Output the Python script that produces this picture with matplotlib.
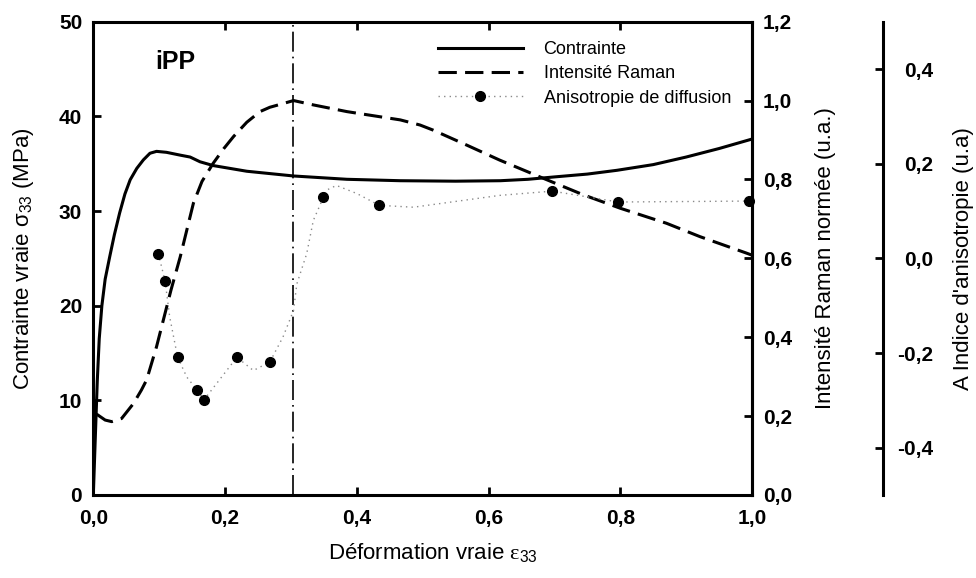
import matplotlib
matplotlib.use("Agg")
import matplotlib.pyplot as plt
from matplotlib.lines import Line2D
from matplotlib.ticker import FixedLocator, FixedFormatter

plt.rcParams['font.family'] = ['Liberation Sans', 'DejaVu Sans']
plt.rcParams['mathtext.fontset'] = 'custom'
plt.rcParams['mathtext.rm'] = 'Liberation Sans'
plt.rcParams['mathtext.it'] = 'Liberation Serif'

# ---- data ----
stress_x = [0.0, 0.003, 0.006, 0.009, 0.013, 0.018, 0.025, 0.032, 0.040, 0.048, 0.056, 0.066,
            0.076, 0.086, 0.096, 0.111, 0.132, 0.147, 0.162, 0.182, 0.233, 0.304, 0.385,
            0.466, 0.55, 0.618, 0.66, 0.7, 0.75, 0.795, 0.85, 0.9, 0.95, 1.0]
stress_y = [0.0, 6.0, 12.0, 16.5, 20.0, 22.8, 25.2, 27.5, 29.8, 31.8, 33.3, 34.5,
            35.4, 36.1, 36.3, 36.2, 35.9, 35.7, 35.2, 34.8, 34.2, 33.7, 33.35,
            33.2, 33.15, 33.2, 33.35, 33.6, 33.9, 34.3, 34.9, 35.7, 36.6, 37.6]

raman_x = [0.005, 0.018, 0.028, 0.043, 0.061, 0.073, 0.081, 0.096, 0.118, 0.132, 0.152, 0.165,
           0.182, 0.198, 0.213, 0.233, 0.253, 0.268, 0.283, 0.304, 0.334, 0.385, 0.435, 0.466,
           0.496, 0.516, 0.567, 0.617, 0.683, 0.744, 0.8, 0.87, 0.921, 0.992, 1.0]
raman_y = [0.205, 0.19, 0.186, 0.194, 0.232, 0.266, 0.292, 0.376, 0.52, 0.604, 0.74, 0.795,
           0.841, 0.878, 0.909, 0.945, 0.972, 0.983, 0.99, 1.0, 0.989, 0.972, 0.959, 0.951,
           0.938, 0.925, 0.887, 0.849, 0.803, 0.761, 0.727, 0.689, 0.655, 0.613, 0.608]

aniso_x = [0.0987, 0.109, 0.128, 0.158, 0.168, 0.218, 0.268, 0.349, 0.434, 0.697, 0.797, 0.996]
aniso_y = [0.0099, -0.048, -0.209, -0.279, -0.299, -0.209, -0.219, 0.130, 0.112, 0.142, 0.119, 0.121]

aniso_line_x = [0.0987, 0.109, 0.116, 0.128, 0.142, 0.158, 0.168, 0.218, 0.243, 0.268, 0.288,
                0.304, 0.309, 0.324, 0.334, 0.354, 0.369, 0.40, 0.434, 0.486, 0.617, 0.697,
                0.797, 0.996]
aniso_line_y = [0.0099, -0.048, -0.124, -0.209, -0.251, -0.279, -0.299, -0.209, -0.237, -0.219,
                -0.166, -0.11, -0.054, 0.01, 0.08, 0.144, 0.154, 0.137, 0.112, 0.108, 0.133, 0.142,
                0.119, 0.121]

vline_x = 0.303

x_ticks = [0.0, 0.2, 0.4, 0.6, 0.8, 1.0]
x_labels = ['0,0', '0,2', '0,4', '0,6', '0,8', '1,0']
s_ticks = [0, 10, 20, 30, 40, 50]
s_labels = ['0', '10', '20', '30', '40', '50']
r_ticks = [0.0, 0.2, 0.4, 0.6, 0.8, 1.0, 1.2]
r_labels = ['0,0', '0,2', '0,4', '0,6', '0,8', '1,0', '1,2']
a_ticks = [-0.4, -0.2, 0.0, 0.2, 0.4]
a_labels = ['-0,4', '-0,2', '0,0', '0,2', '0,4']

series_names = ['Contrainte', 'Intensité Raman', 'Anisotropie de diffusion']

# ---- figure ----
fig = plt.figure(figsize=(9.76, 5.78), dpi=100)
ax = fig.add_axes([0.0956, 0.1436, 0.6749, 0.8189])
ax2 = ax.twinx()
ax3 = ax.twinx()

spine_lw = 2.2
TICK_FS = 15
LABEL_FS = 16

# main axis
ax.plot(stress_x, stress_y, color='black', lw=2.2, solid_capstyle='butt')
ax.axvline(vline_x, color='black', lw=1.2, linestyle=(0, (12, 3, 1, 3)))
ax.set_xlim(0, 1.0)
ax.set_ylim(0, 50)
ax.xaxis.set_major_locator(FixedLocator(x_ticks))
ax.xaxis.set_major_formatter(FixedFormatter(x_labels))
ax.yaxis.set_major_locator(FixedLocator(s_ticks))
ax.yaxis.set_major_formatter(FixedFormatter(s_labels))
ax.tick_params(axis='x', direction='in', top=True, length=6, width=2, pad=10)
ax.tick_params(axis='y', direction='in', right=False, length=6, width=2, pad=8)
for lab in ax.get_xticklabels() + ax.get_yticklabels():
    lab.set_fontsize(TICK_FS)
    lab.set_fontweight('bold')
for sp in ax.spines.values():
    sp.set_linewidth(spine_lw)
ax.set_xlabel(r'Déformation vraie $\varepsilon_{33}$', fontsize=LABEL_FS)
ax.xaxis.set_label_coords(0.516, -0.098)
ax.set_ylabel(r'Contrainte vraie $\mathrm{\sigma_{33}}$ (MPa)', fontsize=LABEL_FS)
ax.yaxis.set_label_coords(-0.087, 0.5)
ax.text(0.124, 0.915, 'iPP', transform=ax.transAxes, fontsize=18, fontweight='bold',
        ha='center', va='center')

# Raman axis
ax2.plot(raman_x, raman_y, color='black', lw=2.2, linestyle=(0, (6, 2.7)))
ax2.set_ylim(0, 1.2)
ax2.yaxis.set_major_locator(FixedLocator(r_ticks))
ax2.yaxis.set_major_formatter(FixedFormatter(r_labels))
ax2.tick_params(axis='y', direction='in', length=6, width=2, pad=8)
for lab in ax2.get_yticklabels():
    lab.set_fontsize(TICK_FS)
    lab.set_fontweight('bold')
for name, sp in ax2.spines.items():
    sp.set_visible(name == 'right')
    sp.set_linewidth(spine_lw)
ax2.set_ylabel('Intensité Raman normée (u.a.)', fontsize=LABEL_FS)
ax2.yaxis.set_label_coords(1.095, 0.5)

# anisotropy axis
ax3.spines['right'].set_position(('axes', 1.199))
for name, sp in ax3.spines.items():
    sp.set_visible(name == 'right')
    sp.set_linewidth(spine_lw)
ax3.plot(aniso_line_x, aniso_line_y, color='#8a8a8a', lw=1.0, linestyle=(0, (1, 3)))
ax3.plot(aniso_x, aniso_y, linestyle='none', marker='o', markersize=7,
         color='black', clip_on=False)
ax3.set_ylim(-0.5, 0.5)
ax3.yaxis.set_major_locator(FixedLocator(a_ticks))
ax3.yaxis.set_major_formatter(FixedFormatter(a_labels))
ax3.tick_params(axis='y', direction='in', length=6, width=2, pad=36)
for lab in ax3.get_yticklabels():
    lab.set_fontsize(TICK_FS)
    lab.set_fontweight('bold')
    lab.set_horizontalalignment('right')
ax3.set_ylabel("A Indice d'anisotropie (u.a)", fontsize=LABEL_FS)
ax3.yaxis.set_label_coords(1.305, 0.5)

# legend
handles = [
    Line2D([], [], color='black', lw=2.2),
    Line2D([], [], color='black', lw=2.2, linestyle=(0, (6, 2.7))),
    Line2D([], [], color='#8a8a8a', lw=1.0, linestyle=(0, (1, 3)), marker='o',
           markersize=7, markerfacecolor='black', markeredgecolor='black'),
]
ax3.legend(handles, series_names, loc='upper left', bbox_to_anchor=(0.523, 0.959),
           frameon=False, fontsize=13, handlelength=4.7, handletextpad=1.16,
           borderpad=0, borderaxespad=0, labelspacing=0.4, numpoints=1)

fig.savefig('out.png', dpi=100)
